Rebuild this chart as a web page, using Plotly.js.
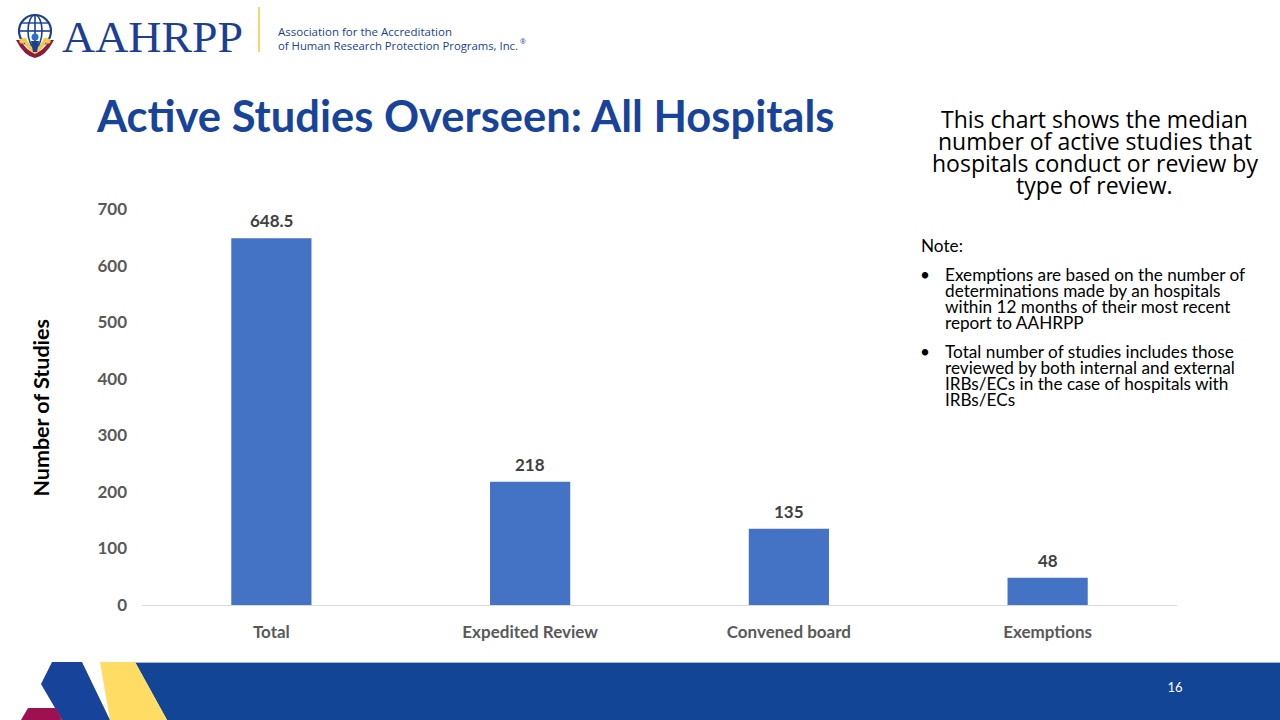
<!DOCTYPE html>
<html>
<head>
<meta charset="utf-8">
<script src="https://cdn.plot.ly/plotly-3.0.1.min.js"></script>
<style>
  html, body { margin: 0; padding: 0; background: #fff; }
  #wrap { position: relative; width: 1280px; height: 720px; overflow: hidden; }
  #chart { position: absolute; left: 0; top: 0; width: 1280px; height: 720px; }
  .deco { position: absolute; left: 0; top: 0; pointer-events: none; }
</style>
</head>
<body>
<div id="wrap">
  <div id="chart"></div>
  <!-- header logo -->
  <svg class="deco" width="1280" height="70" viewBox="0 0 1280 70">
    <g>
      <circle cx="35" cy="31" r="16" fill="none" stroke="#1B3F94" stroke-width="2.2"/>
      <ellipse cx="35" cy="31" rx="7" ry="16" fill="none" stroke="#1B3F94" stroke-width="1.6"/>
      <line x1="35" y1="15" x2="35" y2="47" stroke="#1B3F94" stroke-width="1.6"/>
      <line x1="19" y1="31" x2="51" y2="31" stroke="#1B3F94" stroke-width="1.6"/>
      <line x1="22" y1="23" x2="48" y2="23" stroke="#1B3F94" stroke-width="1.4"/>
      <path d="M16 40 Q24 56 35 58 Q46 56 54 40 L49 40 Q44 51 35 53 Q26 51 21 40 Z" fill="#8E1B3F"/>
      <path d="M22 38 Q28 52 35 54 Q42 52 48 38 L44 38 Q40 47 35 49 Q30 47 26 38 Z" fill="#F3C94B"/>
      <circle cx="35" cy="37" r="3.5" fill="#2A6FC9"/>
      <path d="M31 41 L39 41 L37 52 L33 52 Z" fill="#1B3F94"/>
      <circle cx="22" cy="41" r="2.6" fill="#F3C94B"/>
      <circle cx="48" cy="41" r="2.6" fill="#F3C94B"/>
    </g>
    <text x="62" y="52" font-family="Liberation Serif, DejaVu Serif, serif" font-size="45" fill="#1B3F94" textLength="181" lengthAdjust="spacingAndGlyphs">AAHRPP</text>
    <line x1="259" y1="7" x2="259" y2="52" stroke="#F6D56A" stroke-width="2"/>
    <text x="278" y="36" font-family="Open Sans, sans-serif" font-size="11.5" fill="#1B3F94" textLength="174" lengthAdjust="spacingAndGlyphs">Association for the Accreditation</text>
    <text x="278" y="50" font-family="Open Sans, sans-serif" font-size="11.5" fill="#1B3F94" textLength="240" lengthAdjust="spacingAndGlyphs">of Human Research Protection Programs, Inc.</text>
    <text x="520" y="44" font-family="Open Sans, sans-serif" font-size="7" fill="#1B3F94">®</text>
  </svg>
  <!-- footer band -->
  <svg class="deco" width="1280" height="720" viewBox="0 0 1280 720">
    <polygon points="135,662 1280,662 1280,720 167,720" fill="#134596"/>
    <line x1="135" y1="662.5" x2="1280" y2="662.5" stroke="#9DB6E3" stroke-width="1"/>
    <polygon points="100,662 135,662 167,720 110,720" fill="#FFDC64"/>
    <polygon points="52,662 82,662 110,720 62,720 41,684" fill="#17449A"/>
    <polygon points="28,708 56,708 62,720 21,720" fill="#9E1150"/>
    <text x="1175" y="692" font-family="Liberation Sans Narrow, Lato, sans-serif" font-size="13" fill="#FFFFFF" text-anchor="middle">16</text>
  </svg>
</div>
<script>
// ---- data ----
var categories = ["Total", "Expedited Review", "Convened board", "Exemptions"];
var medianStudies = [648.5, 218, 135, 48];
var valueLabels = ["648.5", "218", "135", "48"];
var yTickValues = [0, 100, 200, 300, 400, 500, 600, 700];

// ---- geometry helpers (pixel -> paper) ----
var L = 141.5, R = 1177.5, T = 209, B = 605;
var W = R - L, H = B - T;
function px(x) { return (x - L) / W; }
function py(y) { return (B - y) / H; }

var calibri = "Lato, Carlito, 'Liberation Sans', sans-serif";
var segoe = "'Open Sans', 'Noto Sans', sans-serif";

var trace = {
  type: "bar",
  x: categories,
  y: medianStudies,
  marker: { color: "#4472C4" },
  width: 0.31,
  hoverinfo: "x+y"
};

var annotations = [];
// data labels above bars
for (var i = 0; i < categories.length; i++) {
  annotations.push({
    x: categories[i], y: medianStudies[i], xref: "x", yref: "y",
    text: valueLabels[i], showarrow: false, yanchor: "bottom", yshift: 5,
    font: { family: calibri, size: 17, weight: "bold", color: "#404040" }
  });
}
// y axis title
annotations.push({
  xref: "paper", yref: "paper", x: px(40), y: py(408),
  text: "Number of Studies", textangle: -90, showarrow: false,
  xanchor: "center", yanchor: "middle",
  font: { family: calibri, size: 21.5, weight: "bold", color: "#000000" }
});
// description text (one annotation per line for tight spacing)
var descLines = [
  { t: "This chart shows the median", y: 119 },
  { t: "number of active studies that", y: 141 },
  { t: "hospitals conduct or review by", y: 163 },
  { t: "type of review.", y: 185 }
];
descLines.forEach(function (l) {
  annotations.push({
    xref: "paper", yref: "paper", x: px(1095), y: py(l.y),
    text: l.t, showarrow: false, xanchor: "center", yanchor: "middle",
    font: { family: segoe, size: 23, color: "#000000" }
  });
});
// note
var noteLines = [
  { t: "Note:", x: 919, y: 245 },
  { t: "•", x: 918, y: 274 },
  { t: "Exemptions are based on the number of", x: 943, y: 274 },
  { t: "determinations made by an hospitals", x: 943, y: 290 },
  { t: "within 12 months of their most recent", x: 943, y: 306 },
  { t: "report to AAHRPP", x: 943, y: 322 },
  { t: "•", x: 918, y: 351 },
  { t: "Total number of studies includes those", x: 943, y: 351 },
  { t: "reviewed by both internal and external", x: 943, y: 367 },
  { t: "IRBs/ECs in the case of hospitals with", x: 943, y: 383 },
  { t: "IRBs/ECs", x: 943, y: 399 }
];
noteLines.forEach(function (l) {
  annotations.push({
    xref: "paper", yref: "paper", x: px(l.x), y: py(l.y),
    text: l.t, showarrow: false, xanchor: "left", yanchor: "middle",
    font: { family: calibri, size: 17.2, color: "#000000" }
  });
});

var layout = {
  width: 1280, height: 720,
  margin: { l: L, r: 1280 - R, t: T, b: 720 - B, pad: 0 },
  paper_bgcolor: "rgba(0,0,0,0)",
  plot_bgcolor: "rgba(0,0,0,0)",
  showlegend: false,
  title: {
    text: "Active Studies Overseen: All Hospitals",
    xref: "container", yref: "container",
    x: 97 / 1280, xanchor: "left",
    y: 1 - 117 / 720, yanchor: "middle",
    font: { family: calibri, size: 43.5, weight: "bold", color: "#17449A" }
  },
  xaxis: {
    type: "category",
    range: [-0.5, 3.5],
    showgrid: false, zeroline: false,
    showline: true, linecolor: "#D9D9D9", linewidth: 1,
    ticks: "", ticklabelstandoff: 12,
    tickfont: { family: calibri, size: 17, weight: "bold", color: "#595959" }
  },
  yaxis: {
    range: [0, 700],
    tickvals: yTickValues,
    showgrid: false, zeroline: false, showline: false,
    ticks: "", ticklabelstandoff: 14,
    tickfont: { family: calibri, size: 17, weight: "bold", color: "#595959" }
  },
  annotations: annotations
};

Plotly.newPlot("chart", [trace], layout, { displayModeBar: false, staticPlot: true });
</script>
</body>
</html>
